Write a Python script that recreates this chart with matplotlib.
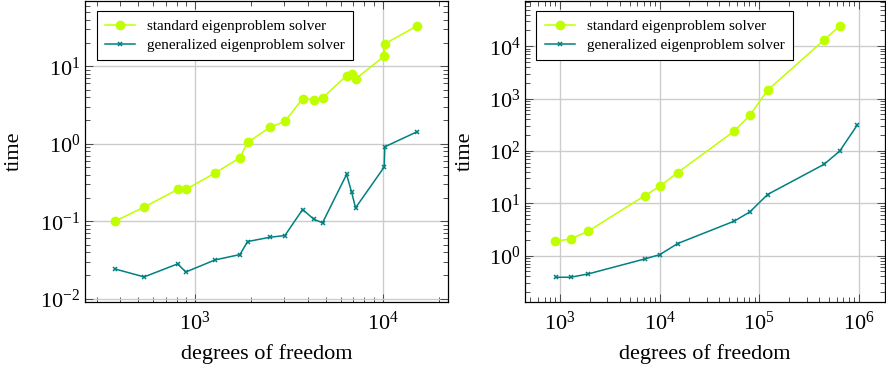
import numpy as np
import matplotlib
matplotlib.use("Agg")
import matplotlib.pyplot as plt
from matplotlib.ticker import LogLocator, NullFormatter

plt.rcParams['font.family'] = ['Liberation Serif', 'DejaVu Serif']
plt.rcParams['mathtext.fontset'] = 'stix'

# left: small test problems
dof_a = [375, 537, 809, 896, 1278, 1738, 1910, 2510, 3017, 3750, 4305, 4787,
         6430, 6840, 7180, 10200, 10280, 15280]
std_a = [0.100, 0.152, 0.257, 0.257, 0.418, 0.659, 1.04, 1.63, 1.94, 3.82, 3.71, 3.90,
         7.58, 8.05, 6.87, 13.5, 19.5, 33.3]
gen_a = [0.0242, 0.0191, 0.0281, 0.0221, 0.0316, 0.0371, 0.0546, 0.0621, 0.0653,
         0.1416, 0.106, 0.0953, 0.402, 0.237, 0.149, 0.500, 0.914, 1.43]

# right: large problems
dof_b_std = [891, 1280, 1923, 7130, 10070, 15200, 56200, 80900, 121600, 451000, 647000]
std_b = [1.88, 2.08, 2.93, 14.0, 21.1, 38.5, 238, 482, 1443, 13250, 24550]
dof_b_gen = [905, 1280, 1923, 7130, 10070, 15200, 56200, 80900, 121600, 451000, 647000, 966000]
gen_b = [0.386, 0.386, 0.447, 0.865, 1.045, 1.70, 4.55, 6.85, 14.7, 55.7, 100, 310]

labels = ['standard eigenproblem solver', 'generalized eigenproblem solver']
lime = '#bfff00'
teal = '#008080'

fig = plt.figure(figsize=(8.86, 3.71), dpi=100)
ax1 = fig.add_axes([0.0963, 0.186, 0.4093, 0.81])
ax2 = fig.add_axes([0.5929, 0.186, 0.406, 0.81])


def style(ax, xlim, ylim, ylab_x):
    ax.set_xscale('log')
    ax.set_yscale('log')
    ax.set_xlim(*xlim)
    ax.set_ylim(*ylim)
    ax.xaxis.set_major_locator(LogLocator(base=10, numticks=20))
    ax.yaxis.set_major_locator(LogLocator(base=10, numticks=20))
    ax.xaxis.set_minor_locator(LogLocator(base=10, subs=np.arange(2, 10), numticks=20))
    ax.yaxis.set_minor_locator(LogLocator(base=10, subs=np.arange(2, 10), numticks=20))
    ax.xaxis.set_minor_formatter(NullFormatter())
    ax.yaxis.set_minor_formatter(NullFormatter())
    ax.tick_params(which='both', direction='in', top=True, right=True,
                   labelsize=16, width=0.6, color='#333333')
    ax.tick_params(which='major', length=6)
    ax.tick_params(which='minor', length=3.5)
    ax.tick_params(axis='x', which='major', pad=7)
    ax.grid(which='major', color='#cccccc', lw=1.0)
    ax.set_axisbelow(True)
    for s in ax.spines.values():
        s.set_linewidth(0.9)
    ax.set_xlabel('degrees of freedom', fontsize=16)
    ax.set_ylabel('time', fontsize=16)
    ax.xaxis.set_label_coords(0.5, -0.14)
    ax.yaxis.set_label_coords(ylab_x, 0.5)


for ax, (xs, ys), (xg, yg) in [(ax1, (dof_a, std_a), (dof_a, gen_a)),
                               (ax2, (dof_b_std, std_b), (dof_b_gen, gen_b))]:
    ax.plot(xs, ys, '-o', color=lime, lw=1.1, ms=6, label=labels[0])
    ax.plot(xg, yg, '-x', color=teal, lw=1.1, ms=3.5, mew=1.1, label=labels[1])
    leg = ax.legend(loc='upper left', bbox_to_anchor=(0.031, 0.968), fancybox=False,
                    edgecolor='black', framealpha=1, fontsize=10.9, borderaxespad=0,
                    handlelength=2.0, borderpad=0.55, labelspacing=0.35)
    leg.get_frame().set_linewidth(0.8)

style(ax1, (261, 22300), (9.06e-3, 68.7), -0.169)
style(ax2, (449, 1.84e6), (0.130, 71600), -0.14)

fig.savefig('out.png', dpi=100)
